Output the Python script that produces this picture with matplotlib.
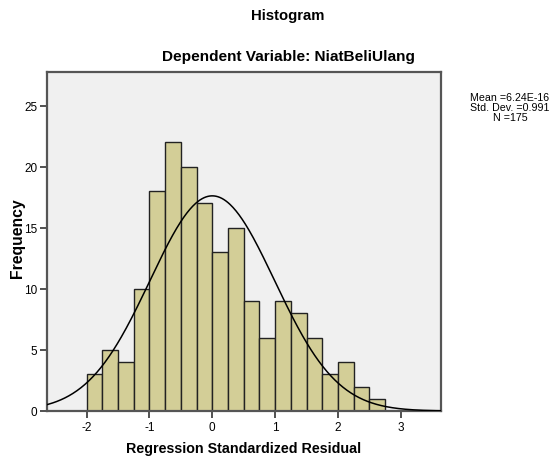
import numpy as np
import matplotlib
matplotlib.use("Agg")
import matplotlib.pyplot as plt

# histogram of regression standardized residuals
bin_edges = [-2.0, -1.75, -1.5, -1.25, -1.0, -0.75, -0.5, -0.25, 0.0, 0.25,
             0.5, 0.75, 1.0, 1.25, 1.5, 1.75, 2.0, 2.25, 2.5, 2.75]
counts = [3, 5, 4, 10, 18, 22, 20, 17, 13, 15, 9, 6, 9, 8, 6, 3, 4, 2, 1]
mean = 6.24e-16
std = 0.991
n = 175
xticks = [-2, -1, 0, 1, 2, 3]
yticks = [0, 5, 10, 15, 20, 25]

plt.rcParams['font.family'] = ['Liberation Sans', 'DejaVu Sans']
plt.rcParams['axes.unicode_minus'] = False

fig = plt.figure(figsize=(5.5, 4.6), dpi=100)
ax = fig.add_axes([47 / 550, 1 - 412 / 460, (441 - 47) / 550, (412 - 73) / 460])
ax.set_facecolor("#f0f0f0")

widths = np.diff(bin_edges)
ax.bar(bin_edges[:-1], counts, width=widths, align="edge",
       color="#d3ce97", edgecolor="#222222", linewidth=1.0, zorder=2)

xs = np.linspace(-2.7, 3.7, 400)
binw = widths[0]
ys = n * binw / (std * np.sqrt(2 * np.pi)) * np.exp(-(xs - mean) ** 2 / (2 * std ** 2))
ax.plot(xs, ys, color="black", linewidth=1.1, zorder=3)

ax.set_xlim(-2.63, 3.64)
ax.set_ylim(0, 27.75)
ax.set_xticks(xticks)
ax.set_yticks(yticks)
ax.tick_params(labelsize=8.5, length=5, width=1.2, color="#333333", pad=2)
for s in ax.spines.values():
    s.set_color("#555555")
    s.set_linewidth(1.6)

ax.set_xlabel("Regression Standardized Residual", fontsize=10.3, fontweight="bold")
ax.set_ylabel("Frequency", fontsize=11.3, fontweight="bold")
ax.xaxis.set_label_coords(0.5, (412 - 449) / 339, transform=ax.transAxes)
ax.xaxis.label.set_va("center")
ax.yaxis.set_label_coords((17 - 47) / 394, (412 - 238) / 339, transform=ax.transAxes)
ax.yaxis.label.set_va("center")

fig.text(288 / 550, 1 - 16 / 460, "Histogram", ha="center", va="center",
         fontsize=10.7, fontweight="bold")
fig.text(288 / 550, 1 - 57 / 460, "Dependent Variable: NiatBeliUlang", ha="center",
         va="center", fontsize=11.1, fontweight="bold")
fig.text(510 / 550, 1 - 108 / 460, "Mean =6.24E-16\nStd. Dev. =0.991\nN =175",
         ha="center", va="center", fontsize=7.7, linespacing=1.0)

fig.savefig("out.png", dpi=100)
